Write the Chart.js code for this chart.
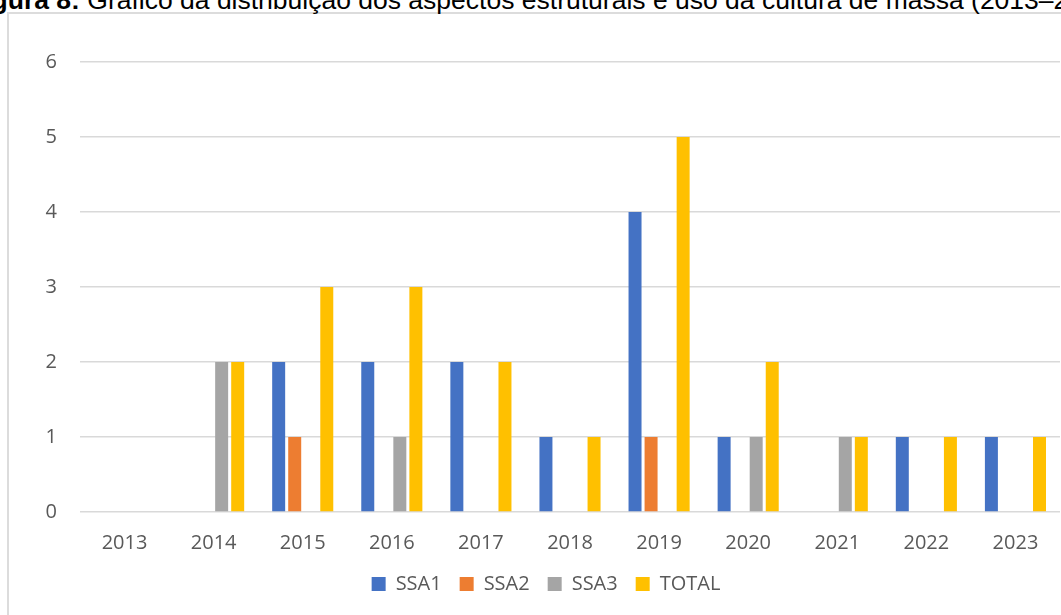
<!DOCTYPE html>
<html>
<head>
<meta charset="utf-8">
<script src="https://cdn.jsdelivr.net/npm/chart.js@4.4.0/dist/chart.umd.min.js"></script>
<style>
    html, body { margin: 0; padding: 0; width: 1061px; height: 615px; overflow: hidden; background: #fff; }
    #frame { position: absolute; left: 7px; top: 12px; width: 1100px; height: 700px; border: 2px solid #dcdcdc; box-sizing: border-box; }
    #caption { position: absolute; left: -32px; top: -13px; font-family: "Liberation Sans", Arial, sans-serif; font-size: 26.5px; line-height: 1; white-space: nowrap; color: #000; }
    #myChart { position: absolute; left: 8px; top: 13px; }
</style>
</head>
<body>
<div id="frame"></div>
<div id="caption"><b>Figura 8:</b> Gráfico da distribuição dos aspectos estruturais e uso da cultura de massa (2013–2023)</div>
<canvas id="myChart" width="1076" height="591" style="width:1076px;height:591px"></canvas>
<script>
var years = ['2013', '2014', '2015', '2016', '2017', '2018', '2019', '2020', '2021', '2022', '2023'];
var ssa1  = [0, 0, 2, 2, 2, 1, 4, 1, 0, 1, 1];
var ssa2  = [0, 0, 1, 0, 0, 0, 1, 0, 0, 0, 0];
var ssa3  = [0, 2, 0, 1, 0, 0, 0, 1, 1, 0, 0];
var total = [0, 2, 3, 3, 2, 1, 5, 2, 1, 1, 1];
var yTicks = [0, 1, 2, 3, 4, 5, 6];

Chart.defaults.font.family = "'Open Sans', sans-serif";
Chart.defaults.font.size = 20;
Chart.defaults.color = '#595959';

var ctx = document.getElementById('myChart').getContext('2d');
var tfChart = new Chart(ctx, {
    type: 'bar',
    data: {
        labels: years,
        datasets: [
            { label: 'SSA1', data: ssa1, backgroundColor: '#4472C4' },
            { label: 'SSA2', data: ssa2, backgroundColor: '#ED7D31' },
            { label: 'SSA3', data: ssa3, backgroundColor: '#A5A5A5' },
            { label: 'TOTAL', data: total, backgroundColor: '#FFC000' }
        ]
    },
    options: {
        responsive: false,
        animation: false,
        layout: {
            padding: { top: 49, left: 24, right: 24, bottom: 0 }
        },
        datasets: {
            bar: {
                categoryPercentage: 0.72,
                barPercentage: 0.81
            }
        },
        scales: {
            x: {
                grid: { display: false, drawTicks: false },
                border: { display: false },
                ticks: { padding: 19 },
                afterFit: function (scale) { scale.height = 44; }
            },
            y: {
                min: yTicks[0],
                max: yTicks[yTicks.length - 1],
                afterBuildTicks: function (scale) {
                    scale.ticks = yTicks.map(function (v) { return { value: v }; });
                },
                grid: { color: '#d9d9d9', lineWidth: 1.5, drawTicks: false },
                border: { display: false },
                ticks: { padding: 23 },
                afterFit: function (scale) { scale.width = 48; }
            }
        },
        plugins: {
            legend: {
                position: 'bottom',
                labels: {
                    boxWidth: 14,
                    boxHeight: 14,
                    padding: 18,
                    color: '#595959'
                }
            },
            tooltip: { enabled: false }
        }
    }
});
</script>
</body>
</html>
